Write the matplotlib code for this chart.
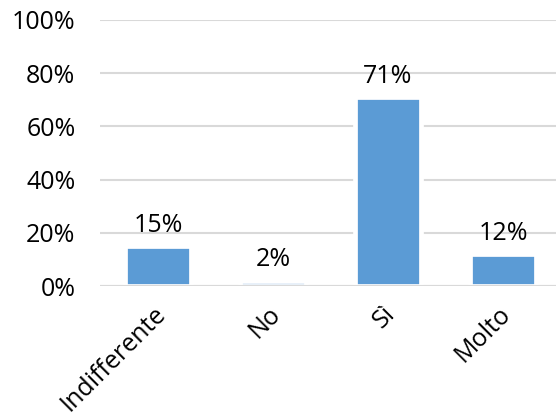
import matplotlib
matplotlib.use('Agg')
import matplotlib.pyplot as plt
import matplotlib.transforms as mtransforms
from matplotlib.ticker import PercentFormatter

# risposte al sondaggio (percentuali)
categorie = ['Indifferente', 'No', 'Sì', 'Molto']
percentuali = [15, 2, 71, 12]
etichette = ['15%', '2%', '71%', '12%']
yticks = [0, 20, 40, 60, 80, 100]

plt.rcParams['font.family'] = ['Open Sans', 'DejaVu Sans']

fig = plt.figure(figsize=(5.56, 4.17), dpi=100)
ax = fig.add_axes([100.5 / 556, 131 / 417, 460 / 556, 266 / 417])

x = range(len(categorie))
ax.bar(x, percentuali, width=0.58, color='#5b9bd5', edgecolor='white',
       linewidth=3.4, zorder=2)

# etichette dei valori sopra le barre
for xi, v, t in zip(x, percentuali, etichette):
    ax.annotate(t, (xi, v), xytext=(0, 6), textcoords='offset points',
                ha='center', va='bottom', fontsize=18, color='black', zorder=4)

ax.set_xlim(-0.5, len(categorie) - 0.5)
ax.set_ylim(0, 100)
ax.set_yticks(yticks)
ax.yaxis.set_major_formatter(PercentFormatter(decimals=0))
ax.grid(axis='y', color='#d9d9d9', linewidth=1.5, zorder=0)
ax.set_axisbelow(True)
ax.axhline(0, color='#d9d9d9', linewidth=1.5, zorder=3)

for s in ax.spines.values():
    s.set_visible(False)

ax.tick_params(axis='y', length=0, pad=18, labelsize=18, labelcolor='black')
ax.tick_params(axis='x', length=0, pad=11, labelsize=18, labelcolor='black')
ax.set_xticks(list(x))
ax.set_xticklabels(categorie, rotation=45, ha='right', va='top',
                   rotation_mode='anchor')

# sposta un po' a sinistra le etichette inclinate
shift = mtransforms.ScaledTranslation(-5 / 100, 0, fig.dpi_scale_trans)
for lab in ax.get_xticklabels():
    lab.set_transform(lab.get_transform() + shift)

fig.savefig('out.png', dpi=100)
